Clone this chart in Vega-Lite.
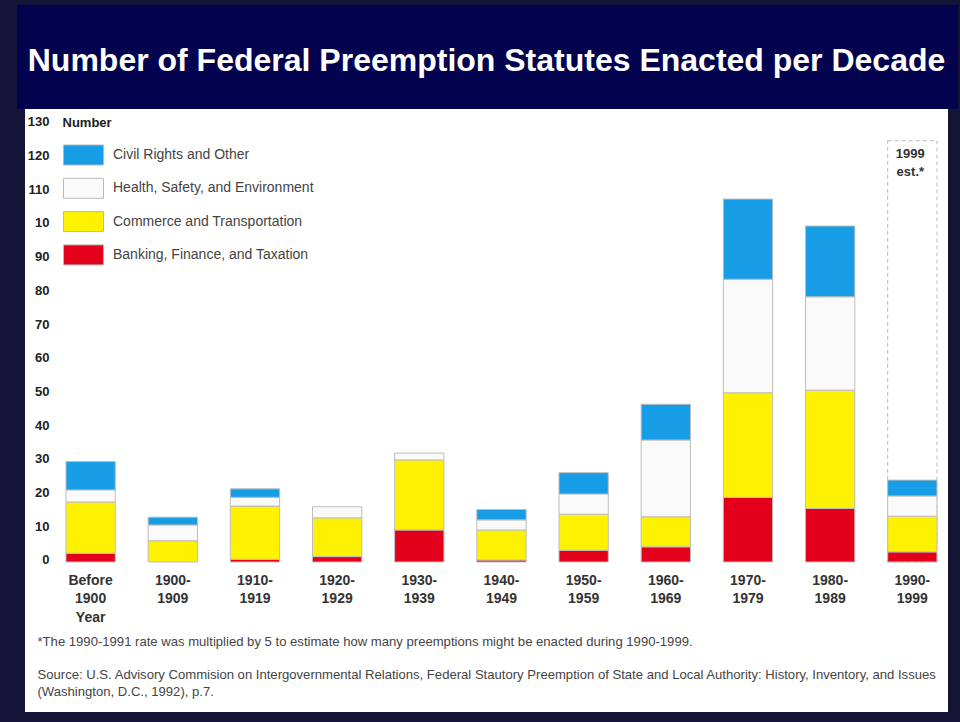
{
  "$schema": "https://vega.github.io/schema/vega-lite/v6.json",
  "width": 923,
  "height": 603,
  "autosize": {"type": "none"},
  "padding": {"left": 25, "top": 109, "right": 12, "bottom": 10},
  "background": "#141436",
  "title": {
    "text": "Number of Federal Preemption Statutes Enacted per Decade",
    "fontSize": 32,
    "font": "Liberation Sans",
    "fontWeight": "bold",
    "color": "#ffffff",
    "anchor": "middle",
    "frame": "group",
    "baseline": "alphabetic",
    "offset": -98
  },
  "config": {
    "view": {"stroke": null, "fill": "#ffffff"},
    "font": "Liberation Sans"
  },
  "datasets": {
    "bars": [
      {"decade": "Before 1900", "category": "Banking, Finance, and Taxation", "count": 2.6},
      {"decade": "Before 1900", "category": "Commerce and Transportation", "count": 15.2},
      {"decade": "Before 1900", "category": "Health, Safety, and Environment", "count": 3.6},
      {"decade": "Before 1900", "category": "Civil Rights and Other", "count": 8.4},
      {"decade": "1900-1909", "category": "Commerce and Transportation", "count": 6.3},
      {"decade": "1900-1909", "category": "Health, Safety, and Environment", "count": 4.7},
      {"decade": "1900-1909", "category": "Civil Rights and Other", "count": 2.3},
      {"decade": "1910-1919", "category": "Banking, Finance, and Taxation", "count": 0.8},
      {"decade": "1910-1919", "category": "Commerce and Transportation", "count": 15.8},
      {"decade": "1910-1919", "category": "Health, Safety, and Environment", "count": 2.6},
      {"decade": "1910-1919", "category": "Civil Rights and Other", "count": 2.5},
      {"decade": "1920-1929", "category": "Banking, Finance, and Taxation", "count": 1.6},
      {"decade": "1920-1929", "category": "Commerce and Transportation", "count": 11.5},
      {"decade": "1920-1929", "category": "Health, Safety, and Environment", "count": 3.3},
      {"decade": "1930-1939", "category": "Banking, Finance, and Taxation", "count": 9.5},
      {"decade": "1930-1939", "category": "Commerce and Transportation", "count": 20.8},
      {"decade": "1930-1939", "category": "Health, Safety, and Environment", "count": 2.0},
      {"decade": "1940-1949", "category": "Banking, Finance, and Taxation", "count": 0.6},
      {"decade": "1940-1949", "category": "Commerce and Transportation", "count": 8.9},
      {"decade": "1940-1949", "category": "Health, Safety, and Environment", "count": 3.0},
      {"decade": "1940-1949", "category": "Civil Rights and Other", "count": 3.1},
      {"decade": "1950-1959", "category": "Banking, Finance, and Taxation", "count": 3.5},
      {"decade": "1950-1959", "category": "Commerce and Transportation", "count": 10.7},
      {"decade": "1950-1959", "category": "Health, Safety, and Environment", "count": 6.0},
      {"decade": "1950-1959", "category": "Civil Rights and Other", "count": 6.3},
      {"decade": "1960-1969", "category": "Banking, Finance, and Taxation", "count": 4.5},
      {"decade": "1960-1969", "category": "Commerce and Transportation", "count": 8.9},
      {"decade": "1960-1969", "category": "Health, Safety, and Environment", "count": 22.8},
      {"decade": "1960-1969", "category": "Civil Rights and Other", "count": 10.6},
      {"decade": "1970-1979", "category": "Banking, Finance, and Taxation", "count": 19.2},
      {"decade": "1970-1979", "category": "Commerce and Transportation", "count": 31.0},
      {"decade": "1970-1979", "category": "Health, Safety, and Environment", "count": 33.7},
      {"decade": "1970-1979", "category": "Civil Rights and Other", "count": 23.8},
      {"decade": "1980-1989", "category": "Banking, Finance, and Taxation", "count": 15.9},
      {"decade": "1980-1989", "category": "Commerce and Transportation", "count": 35.1},
      {"decade": "1980-1989", "category": "Health, Safety, and Environment", "count": 27.7},
      {"decade": "1980-1989", "category": "Civil Rights and Other", "count": 21.0},
      {"decade": "1990-1999", "category": "Banking, Finance, and Taxation", "count": 3.0},
      {"decade": "1990-1999", "category": "Commerce and Transportation", "count": 10.6},
      {"decade": "1990-1999", "category": "Health, Safety, and Environment", "count": 6.0},
      {"decade": "1990-1999", "category": "Civil Rights and Other", "count": 4.7}
    ]
  },
  "layer": [
    {
      "data": {"values": [{"x1": -0.0087, "x2": 1.0108, "y1": 134.42, "y2": 165.3}]},
      "mark": {"type": "rect", "color": "#02024e", "clip": false},
      "encoding": {
        "x": {
          "field": "x1",
          "type": "quantitative",
          "scale": {"domain": [0, 1], "nice": false, "zero": false},
          "axis": {
            "orient": "bottom",
            "domain": false,
            "ticks": false,
            "labels": false,
            "grid": false,
            "title": "*The 1990-1991 rate was multiplied by 5 to estimate how many preemptions might be enacted during 1990-1999.",
            "titleFont": "Liberation Sans",
            "titleFontSize": 13.1,
            "titleFontWeight": "normal",
            "titleColor": "#444444",
            "titleAnchor": "start",
            "titleAlign": "left",
            "titleBaseline": "top",
            "titleX": 12,
            "titleY": -77,
            "titleLimit": 0
          }
        },
        "x2": {"field": "x2"},
        "y": {
          "field": "y1",
          "type": "quantitative",
          "scale": {"domain": [-44.51, 134.42], "nice": false, "zero": false},
          "axis": {
            "orient": "left",
            "offset": -26,
            "values": [0, 10, 20, 30, 40, 50, 60, 70, 80, 90, 100, 110, 120, 130],
            "domain": false,
            "ticks": false,
            "tickSize": 0,
            "grid": false,
            "labelPadding": 2,
            "labelOffset": -2,
            "labelFont": "Liberation Sans",
            "labelFontSize": 13,
            "labelFontWeight": "bold",
            "labelColor": "#222222",
            "labelExpr": "datum.value == 100 ? '10' : datum.label",
            "title": "Number",
            "titleAngle": 0,
            "titleX": 11,
            "titleY": 13,
            "titleAlign": "left",
            "titleBaseline": "middle",
            "titleFont": "Liberation Sans",
            "titleFontSize": 13,
            "titleFontWeight": "bold",
            "titleColor": "#222222"
          }
        },
        "y2": {"field": "y2"}
      }
    },
    {
      "encoding": {
        "x": {
          "field": "decade",
          "type": "nominal",
          "scale": {
            "domain": ["Before 1900", "1900-1909", "1910-1919", "1920-1929", "1930-1939", "1940-1949", "1950-1959", "1960-1969", "1970-1979", "1980-1989", "1990-1999"],
            "paddingInner": 0.4,
            "paddingOuter": 0.3164,
            "align": 0.788
          },
          "axis": {
            "orient": "bottom",
            "offset": -139,
            "domain": false,
            "ticks": false,
            "tickSize": 0,
            "grid": false,
            "labelPadding": 0,
            "labelAngle": 0,
            "labelBaseline": "top",
            "labelFont": "Liberation Sans",
            "labelFontSize": 14,
            "labelFontWeight": "bold",
            "labelColor": "#333333",
            "labelLineHeight": 18.5,
            "labelLimit": 0,
            "labelExpr": "datum.value == 'Before 1900' ? ['Before', '1900', 'Year'] : [slice(datum.value, 0, 5), slice(datum.value, 5)]",
            "title": [
              "Source: U.S. Advisory Commision on Intergovernmental Relations, Federal Stautory Preemption of State and Local Authority: History, Inventory, and Issues",
              "(Washington, D.C., 1992), p.7."
            ],
            "titleFont": "Liberation Sans",
            "titleFontSize": 13.1,
            "titleFontWeight": "normal",
            "titleColor": "#444444",
            "titleAnchor": "start",
            "titleAlign": "left",
            "titleBaseline": "top",
            "titleX": 12,
            "titleY": 95.4,
            "titleLineHeight": 16.7,
            "titleLimit": 0
          }
        }
      },
      "layer": [
        {
          "data": {"values": [{"decade": "1990-1999", "count": 125}]},
          "mark": {"type": "bar", "filled": false, "color": "#bbbbbb", "strokeDash": [4, 3], "strokeWidth": 1},
          "encoding": {
            "y": {"field": "count", "type": "quantitative", "axis": null}
          }
        },
        {
          "data": {"name": "bars"},
          "transform": [
            {"calculate": "indexof(['Banking, Finance, and Taxation', 'Commerce and Transportation', 'Health, Safety, and Environment', 'Civil Rights and Other'], datum.category)", "as": "stackOrder"}
          ],
          "mark": {"type": "bar", "stroke": "#bdbdbd", "strokeWidth": 1},
          "encoding": {
            "y": {"field": "count", "type": "quantitative", "stack": "zero", "axis": null},
            "color": {
              "field": "category",
              "type": "nominal",
              "scale": {
                "domain": ["Civil Rights and Other", "Health, Safety, and Environment", "Commerce and Transportation", "Banking, Finance, and Taxation"],
                "range": ["#169de6", "#fafafa", "#fff200", "#e2001a"]
              },
              "legend": {
                "title": null,
                "orient": "none",
                "legendX": 38,
                "legendY": 25.5,
                "padding": 0,
                "symbolType": "M-1,-0.5H1V0.5H-1Z",
                "symbolSize": 1600,
                "symbolStrokeColor": "#b8b8b8",
                "symbolStrokeWidth": 1,
                "symbolOpacity": 1,
                "labelFont": "Liberation Sans",
                "labelFontSize": 14,
                "labelColor": "#444444",
                "labelOffset": 9,
                "labelLimit": 0,
                "rowPadding": 0.3
              }
            },
            "order": {"field": "stackOrder", "type": "quantitative"}
          }
        },
        {
          "data": {"values": [{"decade": "1990-1999", "count": 125, "note": "1999\nest.*"}]},
          "mark": {"type": "text", "baseline": "top", "dy": 7, "dx": -2, "lineBreak": "\n", "lineHeight": 18, "font": "Liberation Sans", "fontSize": 13, "fontWeight": "bold", "color": "#333333"},
          "encoding": {
            "y": {"field": "count", "type": "quantitative", "axis": null},
            "text": {"field": "note"}
          }
        }
      ]
    }
  ],
  "resolve": {"scale": {"x": "independent"}, "axis": {"x": "independent", "y": "independent"}}
}
